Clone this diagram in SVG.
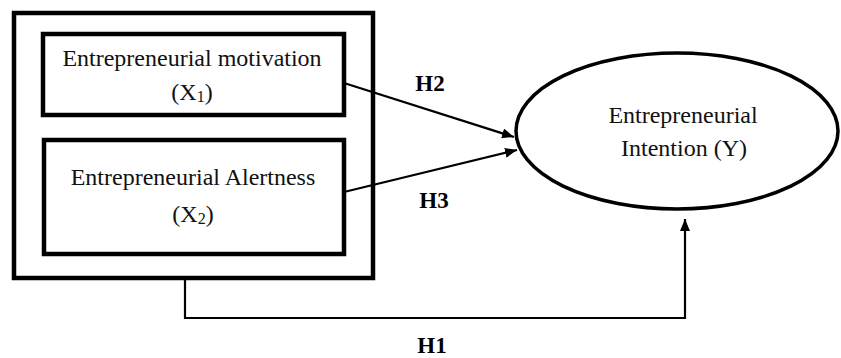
<svg xmlns="http://www.w3.org/2000/svg" width="841" height="358" viewBox="0 0 841 358">
<style>
.box{fill:none;stroke:#000;stroke-width:4.5}
.ell{fill:#fff;stroke:#000;stroke-width:3.5}
.t{font-family:"Liberation Serif","Times New Roman",serif;font-size:24px;fill:#111;text-anchor:middle}
.sub{font-size:16px}
.h{font-family:"Liberation Serif","Times New Roman",serif;font-size:23px;font-weight:bold;fill:#000;text-anchor:middle}
.c{fill:none;stroke:#000;stroke-width:2.2}
</style>
<defs>
<marker id="ah" viewBox="0 0 12 10" refX="12" refY="5" markerWidth="12" markerHeight="10" markerUnits="userSpaceOnUse" orient="auto">
<path d="M0,0 L12,5 L0,10 Z" fill="#000"/>
</marker>
</defs>
<rect width="841" height="358" fill="#fff"/>
<g id="outer">
<rect class="box" x="14" y="13" width="359" height="265"/>
</g>
<g id="x1">
<rect class="box" x="43" y="34" width="301" height="81"/>
<text class="t" x="192" y="66">Entrepreneurial motivation</text>
<text class="t" x="192" y="100">(X<tspan class="sub" dy="2">1</tspan><tspan dy="-2">)</tspan></text>
</g>
<g id="x2">
<rect class="box" x="44" y="140" width="300" height="114"/>
<text class="t" x="193" y="185">Entrepreneurial Alertness</text>
<text class="t" x="193" y="222">(X<tspan class="sub" dy="2">2</tspan><tspan dy="-2">)</tspan></text>
</g>
<g id="y">
<ellipse class="ell" cx="677" cy="131" rx="161" ry="78"/>
<text class="t" x="683" y="123">Entrepreneurial</text>
<text class="t" x="684" y="156">Intention (Y)</text>
</g>
<g id="connectors">
<line class="c" x1="344" y1="83" x2="514" y2="137" marker-end="url(#ah)"/>
<line class="c" x1="344" y1="192" x2="517" y2="150" marker-end="url(#ah)"/>
<polyline class="c" points="185,278 185,318 685,318 685,219" marker-end="url(#ah)"/>
<text class="h" x="430" y="91">H2</text>
<text class="h" x="434" y="208">H3</text>
<text class="h" x="432" y="353">H1</text>
</g>
</svg>
